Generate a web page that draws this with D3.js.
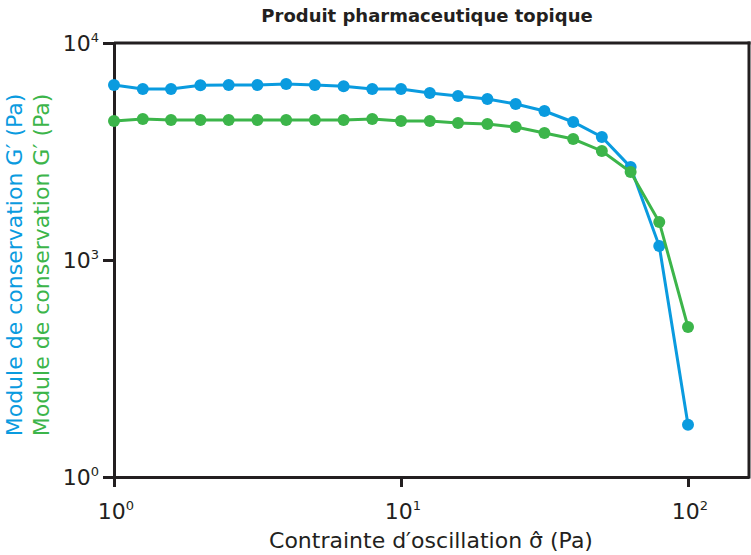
<!DOCTYPE html>
<html>
<head>
<meta charset="utf-8">
<script src="https://cdn.jsdelivr.net/npm/d3@7"></script>
<style>
  body { margin: 0; background: #fff; }
  text { font-family: "DejaVu Sans", sans-serif; fill: #231f20; }
</style>
</head>
<body>
<script>
var width = 751,
    height = 555,
    mLeft = 114, mRight = 749, mTop = 43, mBottom = 477;

// contrainte (Pa), 10 points par decade
var stress = [1, 1.26, 1.58, 2, 2.51, 3.16, 3.98, 5.01, 6.31, 7.94,
              10, 12.6, 15.8, 20, 25.1, 31.6, 39.8, 50.1, 63.1, 79.4, 100];
var gBlue = [6400, 6140, 6140, 6380, 6400, 6400, 6470, 6400, 6320, 6140,
             6140, 5885, 5700, 5520, 5235, 4860, 4325, 3690, 2680, 1160, 174];
var gGreen = [4370, 4465, 4420, 4420, 4420, 4420, 4420, 4420, 4420, 4465,
              4370, 4370, 4280, 4230, 4100, 3850, 3610, 3180, 2545, 1497, 491];

var xTicks = [1, 10, 100],
    xTickLabels = [["10", "0"], ["10", "1"], ["10", "2"]];
var yTicks = [100, 1000, 10000],
    yTickLabels = [["10", "0"], ["10", "3"], ["10", "4"]];

var blue = "#0a9bdf", green = "#3cb54a", dark = "#231f20";

var xSc = d3.scaleLog()
  .domain([1, Math.pow(10, (mRight - mLeft) / 287)])
  .range([mLeft, mRight]);
var ySc = d3.scaleLog()
  .domain([100, 10000])
  .range([mBottom, mTop]);

var svg = d3.select("body").append("svg")
  .attr("width", width)
  .attr("height", height);

// cadre
svg.append("line")
  .attr("x1", mLeft).attr("x2", mRight + 1.5)
  .attr("y1", mTop).attr("y2", mTop)
  .style("stroke", dark).style("stroke-width", 3);
svg.append("line")
  .attr("x1", mRight).attr("x2", mRight)
  .attr("y1", mTop - 1.5).attr("y2", mBottom + 1.5)
  .style("stroke", dark).style("stroke-width", 3);

// axes
var xAxis = d3.axisBottom(xSc).tickValues(xTicks).tickFormat("").tickSize(10).tickSizeOuter(0);
var yAxis = d3.axisLeft(ySc).tickValues(yTicks).tickFormat("").tickSize(11).tickSizeOuter(0);

var gx = svg.append("g")
  .attr("transform", "translate(0," + mBottom + ")")
  .call(xAxis);
var gy = svg.append("g")
  .attr("transform", "translate(" + mLeft + ",0)")
  .call(yAxis);

[gx, gy].forEach(function(g) {
  g.select(".domain").style("stroke", dark).style("stroke-width", 3);
  g.selectAll(".tick line").style("stroke", dark).style("stroke-width", 3);
});

function powLabel(sel, lab) {
  sel.append("tspan").text(lab[0]).style("font-size", "22px");
  sel.append("tspan").text(lab[1]).attr("dy", -9).style("font-size", "13px");
}

svg.selectAll("text.xtick")
  .data(xTicks)
  .enter()
    .append("text")
    .attr("class", "xtick")
    .attr("x", function(d) { return xSc(d) + 2; })
    .attr("y", 519)
    .attr("text-anchor", "middle")
    .each(function(d, i) { powLabel(d3.select(this), xTickLabels[i]); });

svg.selectAll("text.ytick")
  .data(yTicks)
  .enter()
    .append("text")
    .attr("class", "ytick")
    .attr("x", 99)
    .attr("y", function(d) { return ySc(d) + 8; })
    .attr("text-anchor", "end")
    .each(function(d, i) { powLabel(d3.select(this), yTickLabels[i]); });

// series
var series = [
  {vals: gBlue, color: blue},
  {vals: gGreen, color: green}
];

var line = d3.line()
  .x(function(d) { return xSc(d[0]); })
  .y(function(d) { return ySc(d[1]); });

series.forEach(function(s) {
  var pts = stress.map(function(x, i) { return [x, s.vals[i]]; });
  svg.append("path")
    .attr("d", line(pts))
    .style("fill", "none")
    .style("stroke", s.color)
    .style("stroke-width", 3);
  svg.selectAll(null)
    .data(pts)
    .enter()
      .append("circle")
      .attr("cx", function(d) { return xSc(d[0]); })
      .attr("cy", function(d) { return ySc(d[1]); })
      .attr("r", 6)
      .style("fill", s.color);
});

// textes
svg.append("text")
  .attr("x", 427).attr("y", 22)
  .attr("text-anchor", "middle")
  .style("font-size", "18px").style("font-weight", "bold")
  .text("Produit pharmaceutique topique");

svg.append("text")
  .attr("x", 431).attr("y", 548)
  .attr("text-anchor", "middle")
  .style("font-size", "22px")
  .text("Contrainte d\u2032oscillation \u03c3\u0302 (Pa)");

svg.append("text")
  .attr("transform", "translate(22,265) rotate(-90)")
  .attr("text-anchor", "middle")
  .style("font-size", "22px")
  .style("fill", blue)
  .text("Module de conservation G\u2032 (Pa)");

svg.append("text")
  .attr("transform", "translate(49,265) rotate(-90)")
  .attr("text-anchor", "middle")
  .style("font-size", "22px")
  .style("fill", green)
  .text("Module de conservation G\u2032 (Pa)");
</script>
</body>
</html>
